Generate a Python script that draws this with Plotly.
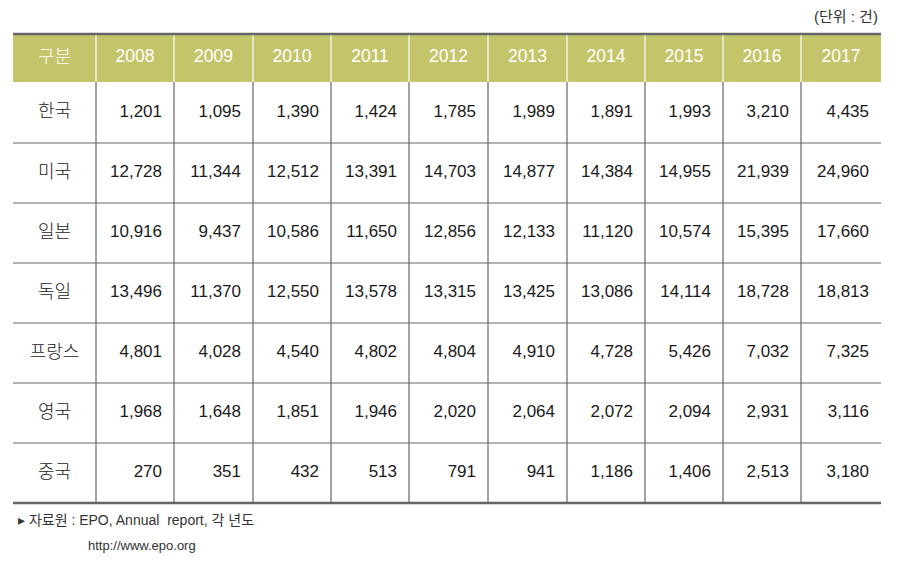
import plotly.graph_objects as go

# ---- data ----
years = ["2008", "2009", "2010", "2011", "2012", "2013", "2014", "2015", "2016", "2017"]
countries = ["한국", "미국", "일본", "독일", "프랑스", "영국", "중국"]
korea = [1201, 1095, 1390, 1424, 1785, 1989, 1891, 1993, 3210, 4435]
usa = [12728, 11344, 12512, 13391, 14703, 14877, 14384, 14955, 21939, 24960]
japan = [10916, 9437, 10586, 11650, 12856, 12133, 11120, 10574, 15395, 17660]
germany = [13496, 11370, 12550, 13578, 13315, 13425, 13086, 14114, 18728, 18813]
france = [4801, 4028, 4540, 4802, 4804, 4910, 4728, 5426, 7032, 7325]
uk = [1968, 1648, 1851, 1946, 2020, 2064, 2072, 2094, 2931, 3116]
china = [270, 351, 432, 513, 791, 941, 1186, 1406, 2513, 3180]
header_label = "구분"
unit_label = "(단위 : 건)"
source_line1 = "▸ 자료원 : EPO, Annual  report, 각 년도"
source_line2 = "http://www.epo.org"

rows = [korea, usa, japan, germany, france, uk, china]

# ---- layout constants (pixel space) ----
W, H = 903, 567
col_edges = [13, 96, 174, 253, 331, 409, 488, 567, 645, 723, 801, 881]
row_edges = [34, 82, 143, 203, 263, 323, 383, 443, 503]
HEADER_BG = "#C4C56B"
LINE = "#666666"
TEXT = "#1a1a1a"
NUM_FONT = "Liberation Sans, Arial, sans-serif"
KR_FONT = "Noto Sans CJK KR, sans-serif"
MIX_FONT = "Liberation Sans, Noto Sans CJK KR, sans-serif"
PAD_R = 12

fig = go.Figure()

# body values as text marks, right-aligned inside each cell
xs, ys, txt = [], [], []
for r, vals in enumerate(rows):
    yc = (row_edges[r + 1] + row_edges[r + 2]) / 2
    for c, v in enumerate(vals):
        xs.append(col_edges[c + 2] - PAD_R)
        ys.append(yc)
        txt.append(f"{v:,}")
fig.add_trace(go.Scatter(x=xs, y=ys, text=txt, mode="text", textposition="middle left",
                         textfont=dict(family=NUM_FONT, size=17, color=TEXT),
                         hoverinfo="skip", showlegend=False, cliponaxis=False))

# row labels
fig.add_trace(go.Scatter(
    x=[(col_edges[0] + col_edges[1]) / 2] * len(countries),
    y=[(row_edges[i + 1] + row_edges[i + 2]) / 2 for i in range(len(countries))],
    text=countries, mode="text", textposition="middle center",
    textfont=dict(family=KR_FONT, size=18, color=TEXT, weight=300),
    hoverinfo="skip", showlegend=False, cliponaxis=False))

# header texts
hy = (row_edges[0] + row_edges[1]) / 2
fig.add_trace(go.Scatter(
    x=[(col_edges[i] + col_edges[i + 1]) / 2 for i in range(1, len(col_edges) - 1)],
    y=[hy] * len(years), text=years, mode="text", textposition="middle center",
    textfont=dict(family=NUM_FONT, size=17.5, color="white"),
    hoverinfo="skip", showlegend=False, cliponaxis=False))
fig.add_trace(go.Scatter(
    x=[(col_edges[0] + col_edges[1]) / 2], y=[hy], text=[header_label], mode="text",
    textposition="middle center", textfont=dict(family=KR_FONT, size=18, color="white", weight=300),
    hoverinfo="skip", showlegend=False, cliponaxis=False))

shapes = []
# header background
shapes.append(dict(type="rect", xref="x", yref="y", x0=col_edges[0], x1=col_edges[-1],
                   y0=row_edges[0], y1=row_edges[1], fillcolor=HEADER_BG, line=dict(width=0),
                   layer="below"))
# header vertical separators (white)
for x in col_edges[1:-1]:
    shapes.append(dict(type="line", xref="x", yref="y", x0=x, x1=x, y0=row_edges[0], y1=row_edges[1],
                       line=dict(color="white", width=1.2)))
# body vertical lines
for x in col_edges[1:-1]:
    shapes.append(dict(type="line", xref="x", yref="y", x0=x, x1=x, y0=row_edges[1], y1=row_edges[-1],
                       line=dict(color=LINE, width=1.2)))
# body horizontal lines
for y in row_edges[2:-1]:
    shapes.append(dict(type="line", xref="x", yref="y", x0=col_edges[0], x1=col_edges[-1], y0=y, y1=y,
                       line=dict(color=LINE, width=1.2)))
# thick top & bottom borders
for y in (row_edges[0], row_edges[-1]):
    shapes.append(dict(type="line", xref="x", yref="y", x0=col_edges[0], x1=col_edges[-1], y0=y, y1=y,
                       line=dict(color=LINE, width=2.5)))

annotations = [
    dict(x=col_edges[-1] - 1, y=16, xref="x", yref="y", text=unit_label, showarrow=False,
         xanchor="right", yanchor="middle",
         font=dict(family=MIX_FONT, size=15, color="#333333")),
    dict(x=16, y=520, xref="x", yref="y", text=source_line1, showarrow=False,
         xanchor="left", yanchor="middle",
         font=dict(family=MIX_FONT, size=14, color="#333333")),
    dict(x=86, y=545, xref="x", yref="y", text=source_line2, showarrow=False,
         xanchor="left", yanchor="middle",
         font=dict(family=NUM_FONT, size=13, color="#333333")),
]

fig.update_layout(
    width=W, height=H, margin=dict(l=0, r=0, t=0, b=0),
    paper_bgcolor="white", plot_bgcolor="white",
    xaxis=dict(range=[0, W], visible=False, fixedrange=True),
    yaxis=dict(range=[H, 0], visible=False, fixedrange=True),
    shapes=shapes, annotations=annotations,
)

fig.write_html("out.html", post_script="document.body.style.margin='0';",
               config={"displayModeBar": False})
